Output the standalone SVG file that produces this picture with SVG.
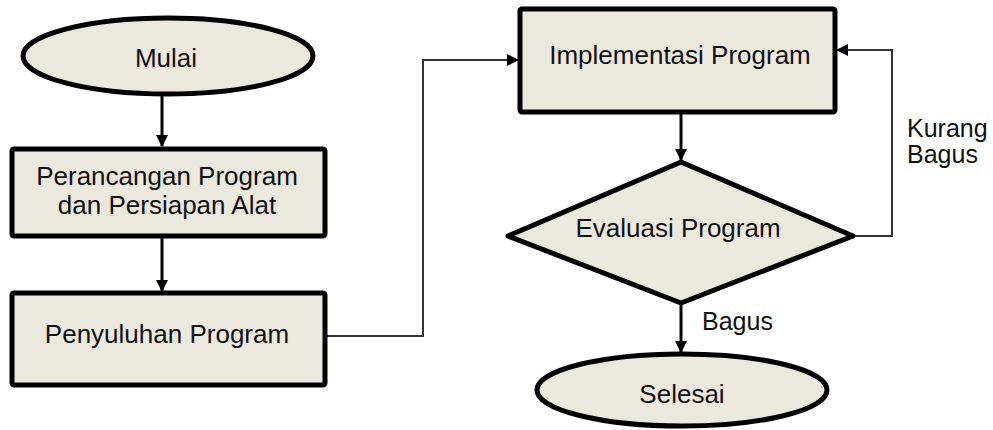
<svg xmlns="http://www.w3.org/2000/svg" width="993" height="430" viewBox="0 0 993 430">
<style>
.shape{fill:#ebe8de;stroke:#000;stroke-width:5;stroke-linejoin:round}
.lbl{font-family:"Liberation Sans",Arial,sans-serif;font-size:26px;fill:#111;text-anchor:middle}
.side{font-family:"Liberation Sans",Arial,sans-serif;font-size:25px;fill:#111}
.conn{fill:none;stroke:#000;stroke-width:3}
.thin{fill:none;stroke:#333;stroke-width:2}
</style>
<defs>
<marker id="ah2" markerWidth="12" markerHeight="12" refX="11" refY="6" orient="auto" markerUnits="userSpaceOnUse" viewBox="0 0 12 12">
<path d="M0,0 L12,6 L0,12 z" fill="#000"/>
</marker>
</defs>
<g id="connectors">
<line class="conn" x1="162" y1="96" x2="162" y2="146" marker-end="url(#ah2)"/>
<line class="conn" x1="162" y1="238" x2="162" y2="291" marker-end="url(#ah2)"/>
<polyline class="thin" points="327,336 423,336 423,60 518,60" marker-end="url(#ah2)"/>
<line class="conn" x1="681" y1="113" x2="681" y2="160" marker-end="url(#ah2)"/>
<polyline class="thin" points="853,236 892,236 892,50 837,50" marker-end="url(#ah2)"/>
<line class="conn" x1="681" y1="304" x2="681" y2="352" marker-end="url(#ah2)"/>
<text class="side" x="907" y="137">Kurang</text>
<text class="side" x="907" y="163">Bagus</text>
<text class="side" x="702" y="330">Bagus</text>
</g>
<g id="mulai">
<ellipse class="shape" cx="168" cy="56" rx="145" ry="38"/>
<text class="lbl" x="166" y="67">Mulai</text>
</g>
<g id="perancangan">
<rect class="shape" x="12" y="149" width="313" height="87" rx="2"/>
<text class="lbl" x="167" y="185">Perancangan Program</text>
<text class="lbl" x="167" y="214">dan Persiapan Alat</text>
</g>
<g id="penyuluhan">
<rect class="shape" x="12" y="293" width="313" height="92" rx="2"/>
<text class="lbl" x="167" y="343">Penyuluhan Program</text>
</g>
<g id="implementasi">
<rect class="shape" x="520" y="9" width="315" height="103" rx="2"/>
<text class="lbl" x="680" y="64">Implementasi Program</text>
</g>
<g id="evaluasi">
<polygon class="shape" points="681,162 853,236 681,303 508,236"/>
<text class="lbl" x="678" y="237">Evaluasi Program</text>
</g>
<g id="selesai">
<ellipse class="shape" cx="682" cy="390" rx="145" ry="36"/>
<text class="lbl" x="682" y="403">Selesai</text>
</g>
</svg>
